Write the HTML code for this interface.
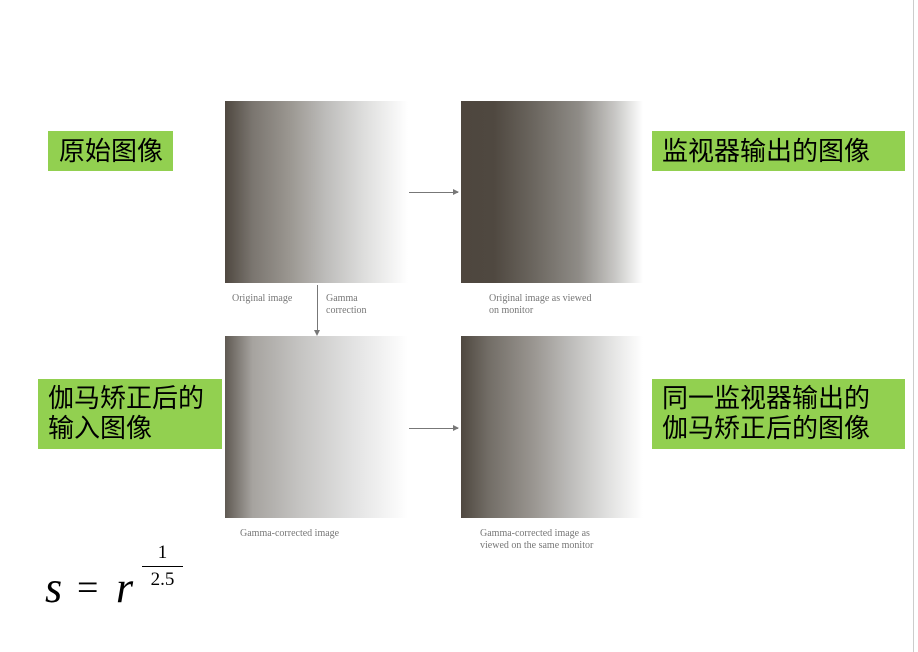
<!DOCTYPE html>
<html><head><meta charset="utf-8"><style>
body{margin:0;width:918px;height:652px;background:#fff;position:relative;overflow:hidden;font-family:"Liberation Sans","Noto Sans CJK SC",sans-serif}
.img{position:absolute;width:183px;height:182px}
.g{position:absolute;background:#92d050;color:#000;font-size:26px;line-height:30px;padding:5px 10px;box-sizing:border-box;font-family:"Liberation Sans","Noto Sans CJK SC",sans-serif;white-space:nowrap}
.cap{position:absolute;font-family:"Liberation Serif",serif;font-size:10px;color:#777;line-height:12px}
.arr{position:absolute;height:1px;background:#777}
.arr:after{content:"";position:absolute;right:-1px;top:-3px;border-left:6px solid #777;border-top:3.5px solid transparent;border-bottom:3.5px solid transparent}
.f{position:absolute;font-family:'Liberation Serif',serif}
</style></head><body>
<div style="position:absolute;left:913px;top:0;width:1px;height:652px;background:#ccc"></div>
<div class="img" style="left:225px;top:101px;background:linear-gradient(90deg,#4f4840 0%,#7a756f 15%,#9a9690 35%,#bdbcba 55%,#dcdcdb 75%,#fff 100%)"></div>
<div class="img" style="left:461px;top:101px;width:182px;background:linear-gradient(90deg,#4e463e 0%,#4f4840 18%,#6b665f 40%,#8f8c87 65%,#c9c8c6 85%,#fff 100%)"></div>
<div class="img" style="left:225px;top:336px;background:linear-gradient(90deg,#5f5952 0%,#a6a39f 15%,#c4c3c1 40%,#e2e2e2 70%,#fff 100%)"></div>
<div class="img" style="left:461px;top:336px;width:182px;background:linear-gradient(90deg,#4f4840 0%,#726d66 15%,#9a9691 40%,#bdbcba 60%,#dfdfde 80%,#fff 100%)"></div>
<div class="arr" style="left:409px;top:192px;width:49px"></div>
<div class="arr" style="left:409px;top:428px;width:49px"></div>
<div style="position:absolute;left:317px;top:285px;width:1px;height:48px;background:#777"></div>
<div style="position:absolute;left:314px;top:330px;border-top:6px solid #777;border-left:3.5px solid transparent;border-right:3.5px solid transparent"></div>
<div class="cap" style="left:232px;top:293px">Original image</div>
<div class="cap" style="left:326px;top:293px">Gamma<br>correction</div>
<div class="cap" style="left:489px;top:293px">Original image as viewed<br>on monitor</div>
<div class="cap" style="left:240px;top:528px">Gamma-corrected image</div>
<div class="cap" style="left:480px;top:528px">Gamma-corrected image as<br>viewed on the same monitor</div>
<div class="g" style="left:48px;top:131px;width:125px;height:40px;padding-left:11px">原始图像</div>
<div class="g" style="left:652px;top:131px;width:253px;height:40px">监视器输出的图像</div>
<div class="g" style="left:38px;top:379px;width:184px;height:70px;padding-top:4px">伽马矫正后的<br>输入图像</div>
<div class="g" style="left:652px;top:379px;width:253px;height:70px;padding-top:4px">同一监视器输出的<br>伽马矫正后的图像</div>
<div class="f" style="left:45px;top:566px;font-size:44px;line-height:44px;font-style:italic">s</div>
<div class="f" style="left:77px;top:566px;font-size:38px;line-height:44px">=</div>
<div class="f" style="left:116px;top:566px;font-size:44px;line-height:44px;font-style:italic">r</div>
<div class="f" style="left:142px;top:543px;width:41px;text-align:center;font-size:19px;line-height:20px">1</div>
<div style="position:absolute;left:142px;top:566px;width:41px;height:1px;background:#000"></div>
<div class="f" style="left:142px;top:570px;width:41px;text-align:center;font-size:19px;line-height:20px">2.5</div>
</body></html>
